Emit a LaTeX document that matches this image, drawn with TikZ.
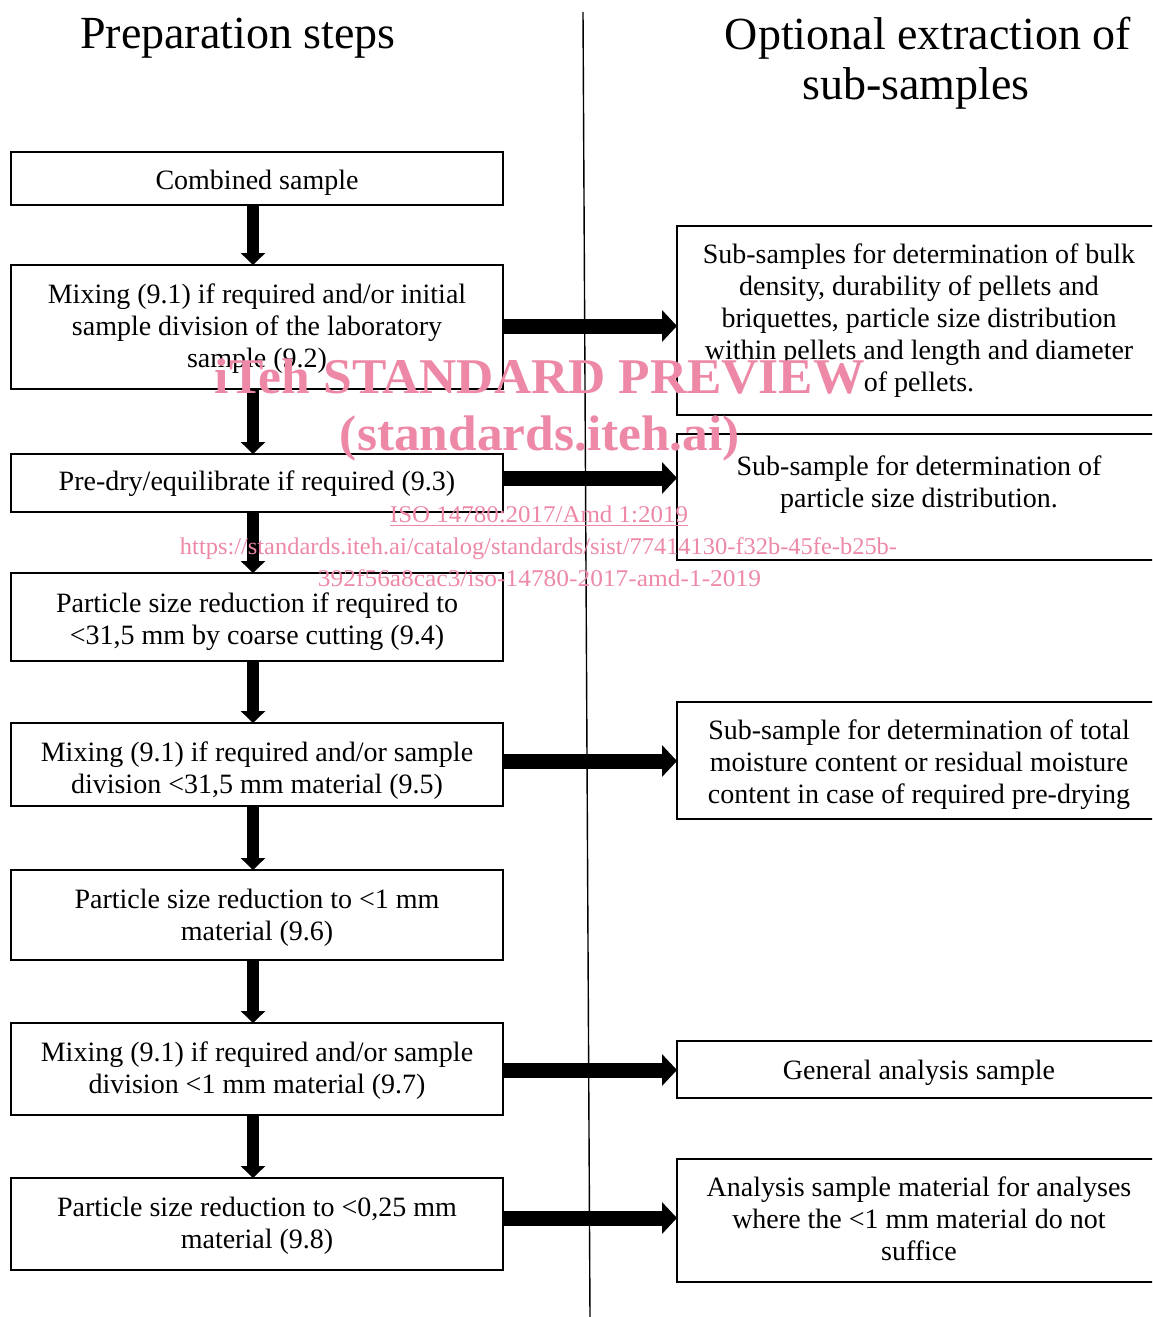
\documentclass[tikz,border=0pt]{standalone}
\usepackage{fontspec}
\setmainfont{Liberation Serif}
\usetikzlibrary{arrows.meta}
\definecolor{wm}{RGB}{237,137,166}
\begin{document}
\begin{tikzpicture}[x=0.5pt,y=-0.5pt,
  box/.style={draw, line width=1.4pt, inner sep=0pt, outer sep=0pt},
  lbox/.style={box, minimum width=246pt},
  rbox/.style={box, minimum width=242pt},
  txt/.style={align=center, inner sep=0pt, font=\fontsize{14}{16}\selectfont},
  darrow/.style={line width=6pt, -{Triangle[width=12pt,length=6pt]}},
  rarrow/.style={line width=7.5pt, -{Triangle[width=15.5pt,length=7.5pt]}},
  title/.style={font=\fontsize{23}{25}\selectfont, inner sep=0pt},
  wmbig/.style={text=wm, font=\fontsize{25}{30}\selectfont\bfseries, inner sep=0pt, anchor=base},
  wmsmall/.style={text=wm, font=\fontsize{12}{14}\selectfont, inner sep=0pt, anchor=base}]
\useasboundingbox (0,0) rectangle (1152,1317);
\clip (0,0) rectangle (1152,1317);
\fill[white] (0,0) rectangle (1152,1317);

% titles
\node[title] (t1) at (238,38) {Preparation steps};
\node[title] (t2) at (928,38) {Optional extraction of};
\node[title] (t3) at (916,88) {sub-samples};

% divider
\coordinate (dtop) at (583,12);
\coordinate (dbot) at (590,1317);
\draw[line width=0.7pt] (dtop) -- (dbot);

% left column boxes
\node[lbox, minimum height=26.5pt] (b1) at (257,178.5) {};
\node[lbox, minimum height=62pt] (b2) at (257,327) {};
\node[lbox, minimum height=29pt] (b3) at (257,483) {};
\node[lbox, minimum height=44pt] (b4) at (257,617) {};
\node[lbox, minimum height=41.5pt] (b5) at (257,764.5) {};
\node[lbox, minimum height=45pt] (b6) at (257,915) {};
\node[lbox, minimum height=46pt] (b7) at (257,1069) {};
\node[lbox, minimum height=46pt] (b8) at (257,1224) {};

\node[txt] (b1t) at ([yshift=-2pt]b1.center) {Combined sample};
\node[txt] (b2t) at ([yshift=-0.75pt]b2.center) {Mixing (9.1) if required and/or initial\\sample division of the laboratory\\sample (9.2)};
\node[txt] (b3t) at ([yshift=-0.5pt]b3.center) {Pre-dry/equilibrate if required (9.3)};
\node[txt] (b4t) at ([yshift=-2.5pt]b4.center) {Particle size reduction if required to\\<31,5 mm by coarse cutting (9.4)};
\node[txt] (b5t) at ([yshift=-3pt]b5.center) {Mixing (9.1) if required and/or sample\\division <31,5 mm material (9.5)};
\node[txt] (b6t) at ([yshift=-1.5pt]b6.center) {Particle size reduction to <1 mm\\material (9.6)};
\node[txt] (b7t) at ([yshift=-1pt]b7.center) {Mixing (9.1) if required and/or sample\\division <1 mm material (9.7)};
\node[txt] (b8t) at ([yshift=-1pt]b8.center) {Particle size reduction to <0,25 mm\\material (9.8)};

% right column boxes
\node[rbox, minimum height=94.5pt] (r1) at (919,320.5) {};
\node[rbox, minimum height=63pt] (r2) at (919,497) {};
\node[rbox, minimum height=58.5pt] (r3) at (919,760.5) {};
\node[rbox, minimum height=28.5pt] (r4) at (919,1069.5) {};
\node[rbox, minimum height=61.5pt] (r5) at (919,1220.5) {};

\node[txt] (r1t) at (r1.center) {Sub-samples for determination of bulk\\density, durability of pellets and\\briquettes, particle size distribution\\within pellets and length and diameter\\of pellets.};
\node[txt] (r2t) at ([yshift=6pt]r2.center) {Sub-sample for determination of\\particle size distribution.};
\node[txt] (r3t) at ([yshift=-2pt]r3.center) {Sub-sample for determination of total\\moisture content or residual moisture\\content in case of required pre-drying};
\node[txt] (r4t) at ([yshift=-1.5pt]r4.center) {General analysis sample};
\node[txt] (r5t) at ([yshift=1pt]r5.center) {Analysis sample material for analyses\\where the <1 mm material do not\\suffice};

% down arrows
\foreach \a/\b in {b1/b2,b2/b3,b3/b4,b4/b5,b5/b6,b6/b7,b7/b8}
  \draw[darrow] ([xshift=-2pt]\a.south) -- ([xshift=-2pt]\b.north);

% right arrows
\path ([yshift=0.5pt]b2.east) coordinate (a1);
\path ([yshift=2.5pt]b3.east) coordinate (a2);
\path ([yshift=1.75pt]b5.east) coordinate (a3);
\path ([yshift=-0.5pt]b7.east) coordinate (a4);
\path ([yshift=3pt]b8.east) coordinate (a5);
\draw[rarrow] (a1) -- (a1 -| r1.west);
\draw[rarrow] (a2) -- (a2 -| r2.west);
\draw[rarrow] (a3) -- (a3 -| r3.west);
\draw[rarrow] (a4) -- (a4 -| r4.west);
\draw[rarrow] (a5) -- (a5 -| r5.west);

% watermark
\node[wmbig] (w1) at (540,393) {\resizebox{325pt}{\height}{iTeh STANDARD PREVIEW}};
\node[wmbig] (w2) at (540,450) {\resizebox{200pt}{\height}{(standards.iteh.ai)}};
\node[wmsmall] (w3) at (539,522) {\underline{\resizebox{149pt}{\height}{ISO 14780:2017/Amd 1:2019}}};
\node[wmsmall] (w4) at (538.5,554) {\resizebox{358.5pt}{\height}{https://standards.iteh.ai/catalog/standards/sist/77414130-f32b-45fe-b25b-}};
\node[wmsmall] (w5) at (539.5,586) {\resizebox{221.5pt}{\height}{392f56a8cac3/iso-14780-2017-amd-1-2019}};
\end{tikzpicture}
\end{document}
